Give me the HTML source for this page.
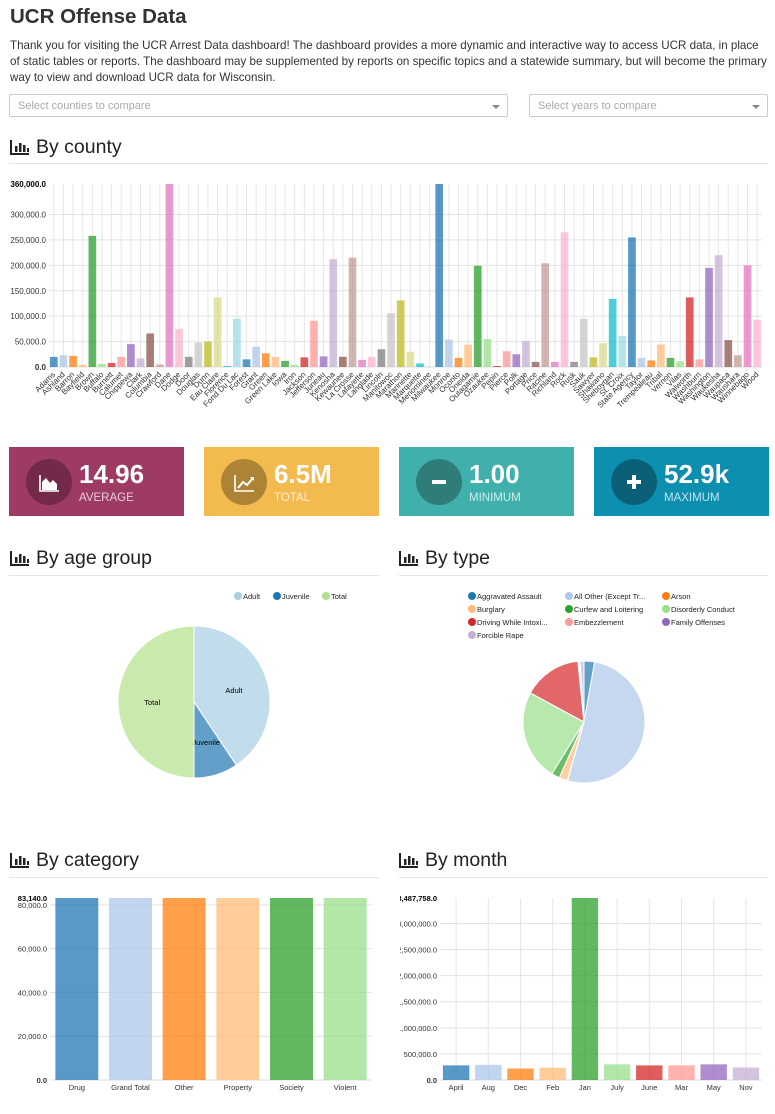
<!DOCTYPE html>
<html><head><meta charset="utf-8">
<style>
body{margin:0;width:775px;height:1114px;overflow:hidden;background:#fff;font-family:"Liberation Sans","DejaVu Sans",sans-serif;color:#333;position:relative}
.a{position:absolute}
h1{position:absolute;left:10px;top:5px;margin:0;font-size:20.5px;font-weight:bold;color:#333}
p.i{position:absolute;left:10px;top:38px;width:760px;margin:0;font-size:11.6px;line-height:16px}
.sel{position:absolute;top:94px;height:23px;border:1px solid #ccc;border-radius:2px;font-size:11px;color:#aaa;line-height:23px;padding-left:8px;box-sizing:border-box}
.sel:after{content:"";position:absolute;right:7px;top:10px;border:4px solid transparent;border-top:4px solid #888}
.hd{position:absolute;font-size:19.5px;color:#222}
.hd svg{vertical-align:-2px;margin-right:6px}
.hr{position:absolute;height:1px;background:#e4e4e4}
.card{position:absolute;top:447px;width:175px;height:69px;color:#fff}
.card .c{position:absolute;left:17px;top:12px;width:46px;height:46px;border-radius:50%}
.card .n{position:absolute;left:70px;top:12px;font-size:26px;font-weight:bold}
.card .l{position:absolute;left:70px;top:45px;font-size:11.5px;opacity:.75}
</style></head><body>
<h1>UCR Offense Data</h1>
<p class="i">Thank you for visiting the UCR Arrest Data dashboard! The dashboard provides a more dynamic and interactive way to access UCR data, in place of static tables or reports. The dashboard may be supplemented by reports on specific topics and a statewide summary, but will become the primary way to view and download UCR data for Wisconsin.</p>
<div class="sel" style="left:9px;width:499px">Select counties to compare</div>
<div class="sel" style="left:529px;width:239px">Select years to compare</div>

<div class="hd" style="left:10px;top:136px"><svg width="20" height="16" viewBox="0 0 20 16"><path d="M1 1v14h18" stroke="#222" stroke-width="2" fill="none"/><rect x="5" y="7" width="2.5" height="6" fill="#222"/><rect x="9" y="4" width="2.5" height="9" fill="#222"/><rect x="13" y="6" width="2.5" height="7" fill="#222"/><rect x="17" y="9" width="2" height="4" fill="#222"/></svg>By county</div>
<div class="hr" style="left:9px;top:163px;width:759px"></div>
<div class="hd" style="left:10px;top:547px"><svg width="20" height="16" viewBox="0 0 20 16"><path d="M1 1v14h18" stroke="#222" stroke-width="2" fill="none"/><rect x="5" y="7" width="2.5" height="6" fill="#222"/><rect x="9" y="4" width="2.5" height="9" fill="#222"/><rect x="13" y="6" width="2.5" height="7" fill="#222"/><rect x="17" y="9" width="2" height="4" fill="#222"/></svg>By age group</div>
<div class="hr" style="left:9px;top:575px;width:370px"></div>
<div class="hd" style="left:399px;top:547px"><svg width="20" height="16" viewBox="0 0 20 16"><path d="M1 1v14h18" stroke="#222" stroke-width="2" fill="none"/><rect x="5" y="7" width="2.5" height="6" fill="#222"/><rect x="9" y="4" width="2.5" height="9" fill="#222"/><rect x="13" y="6" width="2.5" height="7" fill="#222"/><rect x="17" y="9" width="2" height="4" fill="#222"/></svg>By type</div>
<div class="hr" style="left:399px;top:575px;width:369px"></div>
<div class="hd" style="left:10px;top:849px"><svg width="20" height="16" viewBox="0 0 20 16"><path d="M1 1v14h18" stroke="#222" stroke-width="2" fill="none"/><rect x="5" y="7" width="2.5" height="6" fill="#222"/><rect x="9" y="4" width="2.5" height="9" fill="#222"/><rect x="13" y="6" width="2.5" height="7" fill="#222"/><rect x="17" y="9" width="2" height="4" fill="#222"/></svg>By category</div>
<div class="hr" style="left:9px;top:877px;width:370px"></div>
<div class="hd" style="left:399px;top:849px"><svg width="20" height="16" viewBox="0 0 20 16"><path d="M1 1v14h18" stroke="#222" stroke-width="2" fill="none"/><rect x="5" y="7" width="2.5" height="6" fill="#222"/><rect x="9" y="4" width="2.5" height="9" fill="#222"/><rect x="13" y="6" width="2.5" height="7" fill="#222"/><rect x="17" y="9" width="2" height="4" fill="#222"/></svg>By month</div>
<div class="hr" style="left:399px;top:877px;width:369px"></div>

<div class="card" style="left:9px;background:#9e3b65"><div class="c" style="background:#73294a"><svg width="46" height="46"><path d="M14 16v16h19" stroke="#fff" stroke-width="1.6" fill="none"/><path d="M16 31v-8l4-4 4 5 3-3 4 4v6z" fill="#fff"/></svg></div><div class="n">14.96</div><div class="l">AVERAGE</div></div>
<div class="card" style="left:204px;background:#f3ba4e"><div class="c" style="background:#ad8336"><svg width="46" height="46"><path d="M14 16v16h19" stroke="#fff" stroke-width="1.6" fill="none"/><path d="M17 29l5-6 4 3 6-7" stroke="#fff" stroke-width="2" fill="none"/><path d="M29 18h4v4z" fill="#fff"/></svg></div><div class="n">6.5M</div><div class="l">TOTAL</div></div>
<div class="card" style="left:399px;background:#3fb0ac"><div class="c" style="background:#2e7d78"><svg width="46" height="46"><rect x="16" y="21" width="14" height="4" fill="#fff"/></svg></div><div class="n">1.00</div><div class="l">MINIMUM</div></div>
<div class="card" style="left:594px;background:#0d8fb0"><div class="c" style="background:#0b6078"><svg width="46" height="46"><rect x="16" y="21" width="14" height="4" fill="#fff"/><rect x="21" y="16" width="4" height="14" fill="#fff"/></svg></div><div class="n">52.9k</div><div class="l">MAXIMUM</div></div>

<svg id="chart" class="a" style="left:0;top:0" width="775" height="1114" xmlns="http://www.w3.org/2000/svg" font-family="Liberation Sans, DejaVu Sans, sans-serif">
<defs><clipPath id="mclip"><rect x="400" y="880" width="375" height="230"/></clipPath></defs>
</svg>
<script>
const counties=["Adams","Ashland","Barron","Bayfield","Brown","Buffalo","Burnett","Calumet","Chippewa","Clark","Columbia","Crawford","Dane","Dodge","Door","Douglas","Dunn","Eau Claire","Florence","Fond Du Lac","Forest","Grant","Green","Green Lake","Iowa","Iron","Jackson","Jefferson","Juneau","Kenosha","Kewaunee","La Crosse","Lafayette","Langlade","Lincoln","Manitowoc","Marathon","Marinette","Marquette","Menominee","Milwaukee","Monroe","Oconto","Oneida","Outagamie","Ozaukee","Pepin","Pierce","Polk","Portage","Price","Racine","Richland","Rock","Rusk","Sauk","Sawyer","Shawano","Sheboygan","St. Croix","State Agency","Taylor","Trempealeau","Tribal","Vernon","Vilas","Walworth","Washburn","Washington","Waukesha","Waupaca","Waushara","Winnebago","Wood"];
const countyValues=[20000,23000,22000,4000,258000,6000,8000,20000,45000,17000,66000,5000,360000,75000,20000,48000,50000,137000,2000,95000,15000,40000,27000,20000,12000,4000,19000,91000,21000,212000,20000,215000,14000,20000,35000,106000,131000,30000,7000,1000,360000,54000,18000,44000,199000,55000,2000,31000,25000,51000,10000,204000,10000,265000,10000,95000,19000,47000,134000,61000,255000,18000,13000,44000,18000,11000,137000,15000,195000,220000,53000,23000,200000,93000];
const countyTicks=[0,50000,100000,150000,200000,250000,300000];
const countyMax=360000;
const ageLabels=["Adult","Juvenile","Total"];
const ageValues=[40.6,9.4,50];
const typeLabels=["Aggravated Assault","All Other (Except Tr...","Arson","Burglary","Curfew and Loitering","Disorderly Conduct","Driving While Intoxi...","Embezzlement","Family Offenses","Forcible Rape"];
const typeValues=[2.8,51.6,0.1,2.2,2.2,24.1,15.5,0.3,0.3,1.0];
const catLabels=["Drug","Grand Total","Other","Property","Society","Violent"];
const catValues=[83140,83140,83140,83140,83140,83140];
const catTicks=[0,20000,40000,60000,80000];
const catMax=83140;
const monthLabels=["April","Aug","Dec","Feb","Jan","July","June","Mar","May","Nov"];
const monthValues=[280000,290000,220000,235000,3487758,300000,280000,280000,300000,240000];
const monthTicks=[0,500000,1000000,1500000,2000000,2500000,3000000];
const monthMax=3487758;

const C20=["#1f77b4","#aec7e8","#ff7f0e","#ffbb78","#2ca02c","#98df8a","#d62728","#ff9896","#9467bd","#c5b0d5","#8c564b","#c49c94","#e377c2","#f7b6d2","#7f7f7f","#c7c7c7","#bcbd22","#dbdb8d","#17becf","#9edae5"];
const PAIRED=["#a6cee3","#1f78b4","#b2df8a"];
const svg=document.getElementById('chart');
const NS="http://www.w3.org/2000/svg";
function mk(tag,at,parent){const e=document.createElementNS(NS,tag);for(const k in at)e.setAttribute(k,at[k]);(parent||svg).appendChild(e);return e;}
function fmt(v){return v.toLocaleString('en-US',{minimumFractionDigits:1,maximumFractionDigits:1});}

function barChart(o){
  const g=mk('g',o.clip?{'clip-path':'url(#mclip)'}:{});
  
  
  const n=o.labels.length,band=(o.x1-o.x0)/n;
  const xS=i=>o.x0+band*i;
  const yS=v=>o.y0-(v/o.max)*(o.y0-o.yTop);
  if(o.vgrid){for(let i=0;i<n;i++){const cx=xS(i)+band/2;mk('line',{x1:cx,x2:cx,y1:o.yTop,y2:o.y0,stroke:'#e6e6e6'},g);}}
  o.ticks.forEach(t=>{const y=yS(t);
    if(t>0&&o.hgrid)mk('line',{x1:o.x0,x2:o.x1,y1:y,y2:y,stroke:'#e2e2e2'},g);
    const tx=mk('text',{x:o.x0-3,y:y+3,'text-anchor':'end','font-size':o.fs,fill:'#333','font-weight':t===0?'bold':'normal'},g);tx.textContent=fmt(t);
    
    });
  const mt=mk('text',{x:o.x0-3,y:o.yTop+3,'text-anchor':'end','font-size':o.fs,'font-weight':'bold',fill:'#000'},g);mt.textContent=fmt(o.max);
  mk('line',{x1:o.x0,x2:o.x1,y1:o.y0,y2:o.y0,stroke:'#ddd'},g);
  o.values.forEach((v,i)=>{
    const w=band*o.bw,x=xS(i)+(band-w)/2,y=yS(v);
    const r=mk('rect',{x:x,y:y,width:w,height:o.y0-y,fill:o.colors[i%o.colors.length],'fill-opacity':0.75},g);
    
    
    const cx=xS(i)+band/2;
    let t;
    if(o.rot){t=mk('text',{x:cx+2,y:o.y0+8,'text-anchor':'end','font-size':o.fs,fill:'#333',transform:'rotate(-45 '+(cx+2)+' '+(o.y0+8)+')'},g);}
    else{t=mk('text',{x:cx,y:o.y0+10,'text-anchor':'middle','font-size':o.fs,fill:'#333'},g);}
    t.textContent=o.labels[i];
    
    
  });
}
barChart({name:'county-bar-chart',labels:counties,values:countyValues,ticks:countyTicks,max:countyMax,x0:49,x1:762,y0:367,yTop:184,bw:0.8,colors:C20,fs:8,rot:true,vgrid:true,hgrid:true});
barChart({name:'category-bar-chart',labels:catLabels,values:catValues,ticks:catTicks,max:catMax,x0:50,x1:372,y0:1080,yTop:898,bw:0.8,colors:C20,fs:7.5,rot:false,vgrid:false,hgrid:true});
barChart({name:'month-bar-chart',labels:monthLabels,values:monthValues,ticks:monthTicks,max:monthMax,x0:440,x1:762,y0:1080,yTop:898,bw:0.82,colors:C20,fs:7.5,rot:false,vgrid:true,hgrid:true,clip:true});

function pie(o){
  const g=mk('g',{});
  
  
  const tot=o.values.reduce((a,b)=>a+b,0);let a0=0;
  o.values.forEach((v,i)=>{
    const a1=a0+v/tot*Math.PI*2;
    const p=(a)=>[o.cx+o.r*Math.sin(a),o.cy-o.r*Math.cos(a)];
    const [x0,y0]=p(a0),[x1,y1]=p(a1);
    const s=mk('path',{d:`M${o.cx},${o.cy}L${x0},${y0}A${o.r},${o.r} 0 ${a1-a0>Math.PI?1:0} 1 ${x1},${y1}Z`,fill:o.colors[i%o.colors.length],'fill-opacity':0.7,stroke:'#fff','stroke-width':1},g);
    
    
    if(o.showLabels){const m=(a0+a1)/2,lr=o.r*0.55;
      const t=mk('text',{x:o.cx+lr*Math.sin(m),y:o.cy-lr*Math.cos(m)+3,'text-anchor':'middle','font-size':7.5,fill:'#000'},g);t.textContent=o.labels[i];}
    a0=a1;
  });
  o.labels.forEach((l,i)=>{
    const col=i%o.cols,row=Math.floor(i/o.cols);
    const x=o.lx[col],y=o.ly+row*13;
    const d=mk('circle',{cx:x,cy:y,r:4,fill:o.colors[i%o.colors.length]},g);
    
    
    const t=mk('text',{x:x+5,y:y+3,'font-size':7.5,fill:'#222'},g);t.textContent=l;
  });
}
pie({name:'age-pie-chart',labels:ageLabels,values:ageValues,colors:PAIRED,cx:194,cy:702,r:76,showLabels:true,cols:3,lx:[238,277,326],ly:596});
pie({name:'type-pie-chart',labels:typeLabels,values:typeValues,colors:C20,cx:584,cy:722,r:61,showLabels:false,cols:3,lx:[472,569,666],ly:596});
</script>
</body></html>
